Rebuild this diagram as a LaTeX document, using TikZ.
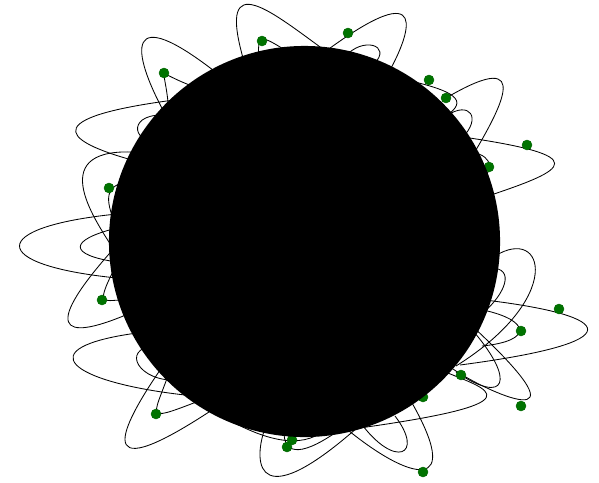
\documentclass[tikz,border=0pt]{standalone}
\usepackage{tikz}
\usetikzlibrary{positioning}

\begin{document}
\begin{tikzpicture}[x=0.025cm, y=-0.025cm,
  petal/.style={draw=black, line width=0.6pt},
  gdot/.style={circle, fill=green!45!black, draw=black!60!green, line width=0.3pt, minimum size=0.25cm, inner sep=0pt}]
\useasboundingbox (0,0) rectangle (599,482);
% loops, top
\draw[petal] (243,58) .. controls (217,-35) and (273,13) .. (327,52);
\draw[petal] (259,58) .. controls (256,28) and (267,40) .. (292,54);
\draw[petal] (322,54) .. controls (436,-31) and (407,39) .. (390,70);
\draw[petal] (345,57) .. controls (362,36) and (393,45) .. (374,64);
% loops, right
\draw[petal] (396,78) .. controls (483,95) and (454,108) .. (445,118);
\draw[petal] (446,98) .. controls (538,44) and (498,113) .. (470,160);
\draw[petal] (446,116) .. controls (470,100) and (482,118) .. (462,138);
\draw[petal] (463,137) .. controls (593,156) and (569,169) .. (488,196);
\draw[petal] (474,153) .. controls (492,155) and (497,175) .. (476,179);
\draw[petal] (495,256) .. controls (545,225) and (565,298) .. (456,366);
\draw[petal] (491,268) .. controls (515,268) and (506,293) .. (483,313);
\draw[petal] (485,300) .. controls (617,316) and (635,342) .. (460,365);
\draw[petal] (483,310) .. controls (530,320) and (534,341) .. (482,346);
\draw[petal] (470,324) .. controls (602,446) and (481,389) .. (453,369);
\draw[petal] (474,332) .. controls (515,380) and (507,406) .. (456,372);
\draw[petal] (443,371) .. controls (488,390) and (546,403) .. (345,430);
% loops, bottom
\draw[petal] (408,396) .. controls (467,496) and (410,482) .. (343,426);
\draw[petal] (360,422) .. controls (395,470) and (425,455) .. (395,416);
\draw[petal] (265,428) .. controls (252,465) and (257,520) .. (368,418);
\draw[petal] (225,418) .. controls (265,440) and (300,450) .. (325,430);
\draw[petal] (284,430) .. controls (283,458) and (305,455) .. (342,428);
% loops, left
\draw[petal] (167,360) .. controls (124,421) and (83,495) .. (212,410);
\draw[petal] (170,370) .. controls (152,422) and (141,423) .. (212,396);
\draw[petal] (137,333) .. controls (27,348) and (69,382) .. (185,395);
\draw[petal] (162,345) .. controls (120,345) and (135,378) .. (170,380);
\draw[petal] (117,245) .. controls (41,329) and (60,343) .. (128,314);
\draw[petal] (120,258) .. controls (93,309) and (103,300) .. (122,300);
\draw[petal] (117,214) .. controls (-13,227) and (-13,265) .. (117,278);
\draw[petal] (117,228) .. controls (68,240) and (68,255) .. (117,262);
\draw[petal] (132,152) .. controls (43,149) and (98,224) .. (114,250);
\draw[petal] (122,183) .. controls (102,189) and (107,206) .. (120,235);
\draw[petal] (174,100) .. controls (22,120) and (78,145) .. (132,160);
\draw[petal] (162,115) .. controls (125,115) and (134,147) .. (162,140);
\draw[petal] (164,112) .. controls (131,51) and (124,0) .. (218,74);
\draw[petal] (168,102) .. controls (164,63) and (155,73) .. (195,87);
% green nodes
\foreach \p [count=\i] in {(262,41),(348,33),(164,73),(429,80),(446,98),(527,145),
  (489,167),(109,188),(102,300),(559,309),(521,331),(461,375),(423,397),(521,406),
  (156,414),(292,440),(287,447),(423,472)}
  \node[gdot] (v\i) at \p {};
% the hub
\node[circle, fill=black, inner sep=0pt, minimum size=9.775cm] (hub) at (304.5,241.5) {};
\end{tikzpicture}
\end{document}
